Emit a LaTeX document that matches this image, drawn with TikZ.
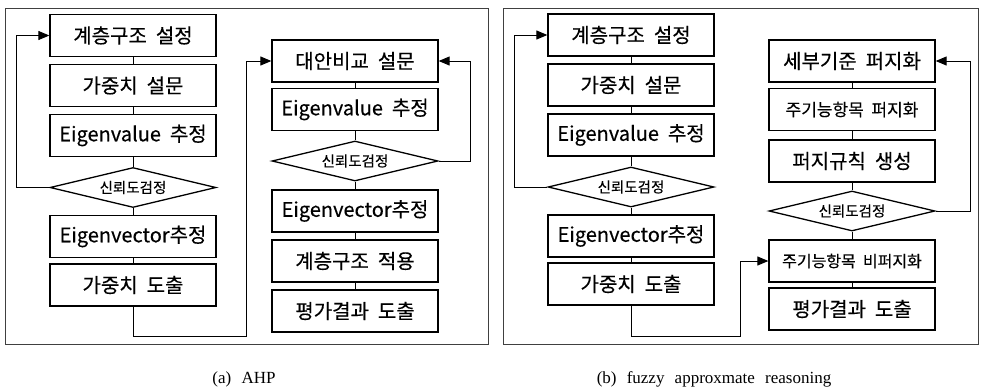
\documentclass[tikz,border=0pt]{standalone}
\usepackage{fontspec}
\newfontfamily\krfont{Noto Sans CJK KR}[WordSpace=2,FakeBold=0.3]
\newfontfamily\capfont{Liberation Serif}[WordSpace=2.4]
\usetikzlibrary{shapes.geometric,arrows.meta}

\begin{document}
\begin{tikzpicture}[x=1pt,y=-1pt,
  bx/.style={draw,line width=1.3pt,minimum width=166pt,minimum height=42pt,inner sep=0pt,font=\krfont\fontsize{20}{20}\selectfont},
  sbx/.style={bx,font=\krfont\fontsize{17}{17}\selectfont},
  chk/.style={draw,diamond,shape aspect=4,line width=1.3pt,minimum width=166pt,minimum height=40pt,inner sep=0pt,font=\krfont\fontsize{14.5}{14.5}\selectfont},
  ln/.style={line width=1pt},
  ar/.style={line width=1pt,-{Triangle[length=11pt,width=9pt]}},
  fr/.style={line width=0.8pt,black!75}]
\useasboundingbox (0,0) rectangle (981,389);
\def\xl{133}\def\xr{355}
%------------- (a) AHP
\draw[fr] (5,8) rectangle (488,344);
\node[bx] (a1) at (\xl,35.5) {계층구조 설정};
\node[bx] (a2) at (\xl,85.5) {가중치 설문};
\node[bx] (a3) at (\xl,135.5) {Eigenvalue 추정};
\node[chk] (ad) at (\xl,187.5) {신뢰도검정};
\node[bx] (a4) at (\xl,236.5) {Eigenvector추정};
\node[bx] (a5) at (\xl,285) {가중치 도출};
\draw[ln] (a1) -- (a2) (a2) -- (a3) (a3) -- (ad) (ad) -- (a4) (a4) -- (a5);
\draw[ar] (ad.west) -- ++(-33,0) |- (a1.west);
% right column
\node[bx] (b1) at (\xr,61) {대안비교 설문};
\node[bx] (b2) at (\xr,109.5) {Eigenvalue 추정};
\node[chk] (bd) at (\xr,161) {신뢰도검정};
\node[bx] (b3) at (\xr,211) {Eigenvector추정};
\node[bx] (b4) at (\xr,261) {계층구조 적용};
\node[bx] (b5) at (\xr,311) {평가결과 도출};
\draw[ln] (b1) -- (b2) (b2) -- (bd) (bd) -- (b3) (b3) -- (b4) (b4) -- (b5);
\draw[ar] (bd.east) -- ++(32,0) |- (b1.east);
\draw[ar] (a5.south) |- (246,336) |- (b1.west);
\node[font=\capfont\fontsize{17}{17}\selectfont] (capa) at (244,379) {(a) AHP};
%------------- (b) fuzzy reasoning
\draw[fr] (503,8) rectangle (978,344);
\begin{scope}[xshift=498pt]
\node[bx] (c1) at (\xl,35) {계층구조 설정};
\node[bx] (c2) at (\xl,85) {가중치 설문};
\node[bx] (c3) at (\xl,135) {Eigenvalue 추정};
\node[chk] (cd) at (\xl,187) {신뢰도검정};
\node[bx] (c4) at (\xl,236) {Eigenvector추정};
\node[bx] (c5) at (\xl,284) {가중치 도출};
\end{scope}
\draw[ln] (c1) -- (c2) (c2) -- (c3) (c3) -- (cd) (cd) -- (c4) (c4) -- (c5);
\draw[ar] (cd.west) -- ++(-33,0) |- (c1.west);
% right column
\node[bx] (d1) at (852,61) {세부기준 퍼지화};
\node[sbx] (d2) at (852,109.5) {주기능항목 퍼지화};
\node[bx] (d3) at (852,161) {퍼지규칙 생성};
\node[chk] (dd) at (852,211) {신뢰도검정};
\node[sbx,font=\krfont\fontsize{16}{16}\selectfont] (d5) at (852,261) {주기능항목 비퍼지화};
\node[bx] (d6) at (852,309) {평가결과 도출};
\draw[ln] (d1) -- (d2) (d2) -- (d3) (d3) -- (dd) (dd) -- (d5) (d5) -- (d6);
\draw[ar] (dd.east) -- ++(35,0) |- (d1.east);
\draw[ar] (c5.south) |- (740,336) |- (d5.west);
\node[font=\capfont\fontsize{17}{17}\selectfont] (capb) at (714,379) {(b) fuzzy approxmate reasoning};
\end{tikzpicture}
\end{document}
